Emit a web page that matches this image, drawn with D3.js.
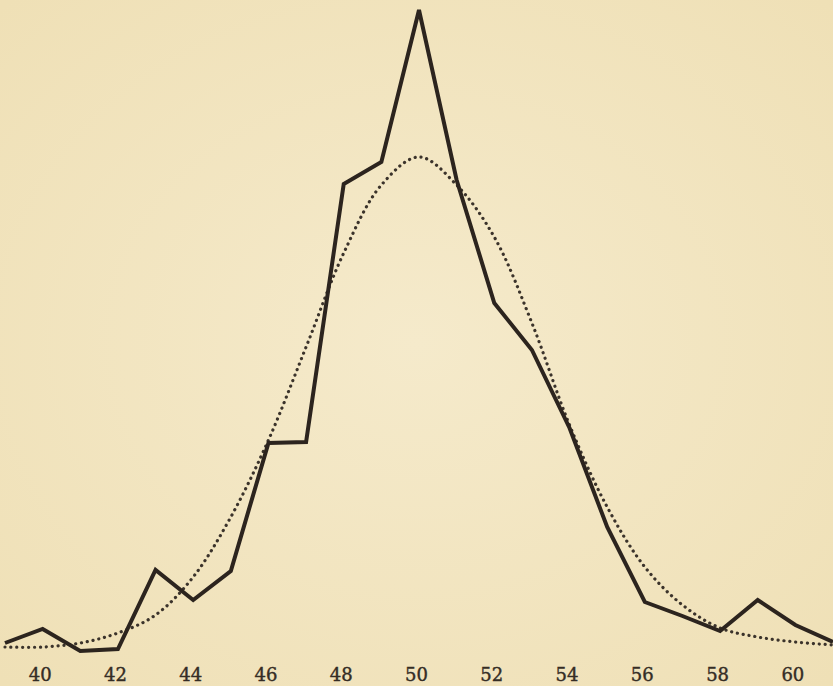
<!DOCTYPE html>
<html lang="en">
<head>
    <meta charset="UTF-8">
    <title>Frequency curve</title>
    <script src="https://d3js.org/d3.v7.min.js"></script>
    <style>
        html, body {
            margin: 0;
            padding: 0;
            background: #f1e4bd;
        }
        svg {
            display: block;
        }
    </style>
</head>
<body>
    <svg id="chart"></svg>

    <script>
        // measurement classes (x) and tick labels
        var classes = [39, 40, 41, 42, 43, 44, 45, 46, 47, 48, 49, 50,
                       51, 52, 53, 54, 55, 56, 57, 58, 59, 60, 61];
        var tickLabels = [40, 42, 44, 46, 48, 50, 52, 54, 56, 58, 60];

        var observed = [12, 26, 4, 6, 85, 55, 84, 212, 213, 471, 493, 645,
                        475, 352, 305, 227, 128, 53, 39, 24, 55, 30, 13];

        // fitted curve (dotted line)
        var fitted = [8, 8, 12, 22, 40, 78, 138, 215, 308, 402, 470, 498,
                      470, 418, 332, 230, 148, 88, 50, 27, 18, 13, 10];

        var width = 833, height = 686;

        var svg = d3.select("#chart")
            .attr("width", width)
            .attr("height", height);

        // paper tone, a bit lighter in the middle
        var defs = svg.append("defs");
        var grad = defs.append("radialGradient")
            .attr("id", "paper")
            .attr("cx", "50%").attr("cy", "50%").attr("r", "70%");
        grad.append("stop").attr("offset", "0%").attr("stop-color", "#f5eacb");
        grad.append("stop").attr("offset", "100%").attr("stop-color", "#efe0b6");

        svg.append("rect")
            .attr("width", width)
            .attr("height", height)
            .attr("fill", "url(#paper)");

        var x = d3.scaleLinear().domain([39, 61]).range([5, 833]);
        var y = d3.scaleLinear().domain([0, 650]).range([655, 5]);

        // bottom labels, no axis line or ticks
        var xAxis = svg.append("g")
            .attr("transform", "translate(-3,662)")
            .call(d3.axisBottom(x).tickValues(tickLabels).tickSize(0).tickPadding(6));
        xAxis.select(".domain").remove();
        xAxis.attr("font-family", "DejaVu Serif, serif")
            .attr("font-size", 18);
        xAxis.selectAll(".tick text")
            .attr("fill", "#352d25")
            .attr("stroke", "#352d25")
            .attr("stroke-width", 0.4);

        var fitLine = d3.line()
            .x(function(d, i) { return x(classes[i]); })
            .y(function(d) { return y(d); })
            .curve(d3.curveCatmullRom);

        var obsLine = d3.line()
            .x(function(d, i) { return x(classes[i]); })
            .y(function(d) { return y(d); });

        svg.append("path")
            .datum(fitted)
            .attr("d", fitLine)
            .attr("fill", "none")
            .attr("stroke", "#3b332b")
            .attr("stroke-width", 3.2)
            .attr("stroke-linecap", "round")
            .attr("stroke-dasharray", "0.1,5.8");

        svg.append("path")
            .datum(observed)
            .attr("d", obsLine)
            .attr("fill", "none")
            .attr("stroke", "#2c241e")
            .attr("stroke-width", 4)
            .attr("stroke-linejoin", "miter");
    </script>
</body>
</html>
